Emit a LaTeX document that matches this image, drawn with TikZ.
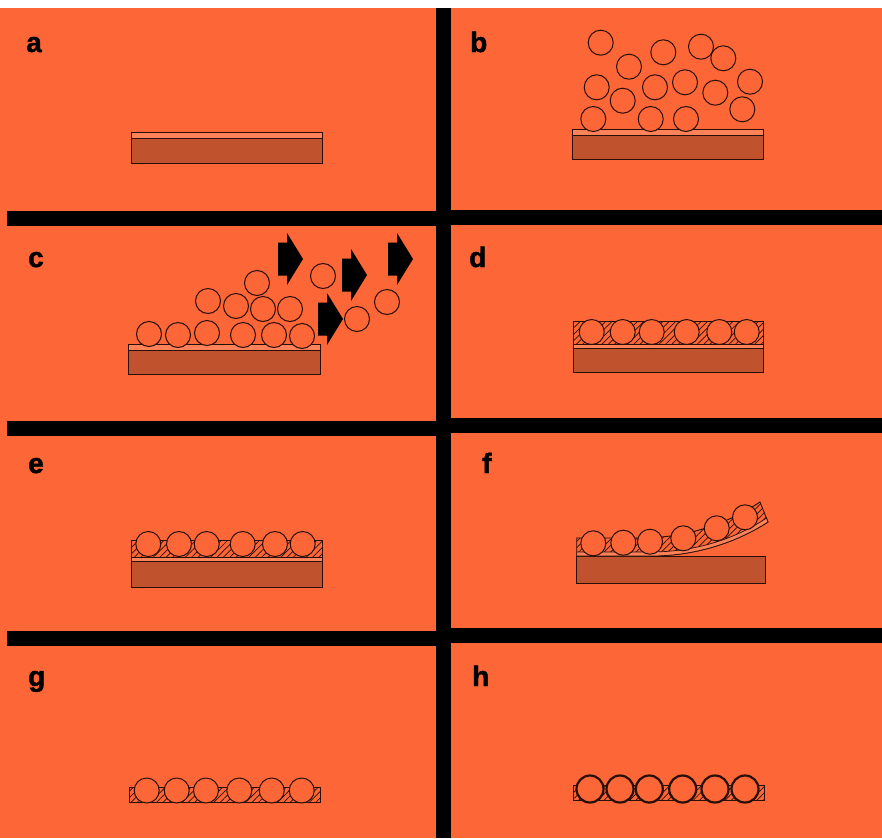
\documentclass[tikz,border=0pt]{standalone}
\usepackage{fontspec}
\newfontfamily\tagfont[FakeBold=1.6]{Liberation Sans Bold}
\usetikzlibrary{patterns.meta}
\definecolor{myorange}{RGB}{253,102,54}
\definecolor{mybrown}{RGB}{192,82,46}
\definecolor{mystrip}{RGB}{255,130,88}
\definecolor{myink}{RGB}{40,15,10}

\tikzset{
  substrate/.style={fill=mybrown, draw=myink, line width=0.9pt},
  strip/.style={fill=mystrip, draw=myink, line width=0.7pt},
  grain/.style={fill=myorange, draw=myink, line width=1pt},
  binder/.style={pattern={Lines[angle=45,distance=4.5pt,line width=0.7pt]},
    pattern color=myink, draw=myink, line width=0.9pt},
  tag/.style={font=\tagfont\fontsize{28}{28}\selectfont,
    anchor=base west, inner sep=0pt}
}

% block arrow, given by the left middle point of its shaft
\newcommand{\pusharrow}[2]{%
  \fill[black] (#1,#2) -- ++(0,-16.5) -- ++(9,0) -- ++(0,-9.5) -- ++(16,26)
    -- ++(-16,26) -- ++(0,-9.5) -- ++(-9,0) -- cycle;}

\begin{document}
\begin{tikzpicture}[x=1pt, y=-1pt]
\useasboundingbox (0,0) rectangle (882,838);
\fill[white] (0,0) rectangle (882,8);
\fill[myorange] (0,8) rectangle (882,838);
% grid bars
\fill[black] (436,8) rectangle (451,838);
\foreach \yl/\yr in {211/210, 421/418, 631/628} {
    \fill[black] (7,\yl) rectangle (436,\yl+15);
    \fill[black] (451,\yr) rectangle (882,\yr+15);
}

% a
\node[tag] (la) at (26,52) {a};
\draw[strip] (131,132) rectangle (322,138);
\draw[substrate] (131,138) rectangle (322,163);

% b
\node[tag] (lb) at (470,52) {b};
\draw[strip] (572,129) rectangle (763,135);
\draw[substrate] (572,135) rectangle (763,159);
\foreach \x/\y in {600.7/42.7, 629/66.7, 663.3/52.3, 701/46.7, 723.3/58.3,
    596.7/87.3, 622.7/100.7, 655/87.3, 685/82.3, 715.3/92.7, 750/81.7,
    593.3/119, 650.7/119, 686/119, 742.3/109.3} {
    \draw[grain] (\x,\y) circle (12.5);
}

% c
\node[tag] (lc) at (28,267) {c};
\draw[strip] (128,344) rectangle (320,350);
\draw[substrate] (128,350) rectangle (320,374);
\foreach \x/\y in {149/334, 178/335, 207/333, 243/335, 274/335, 302/336,
    208/301, 236/306, 263/309, 290/309, 257/283,
    323/276, 357/319, 387/302} {
    \draw[grain] (\x,\y) circle (12.5);
}
% blowing
\pusharrow{278}{259}
\pusharrow{342}{275}
\pusharrow{388}{259}
\pusharrow{318}{319}

% d
\node[tag] (ld) at (469,267) {d};
\draw[strip] (573,344) rectangle (763,348);
\draw[substrate] (573,348) rectangle (763,372);
\draw[binder] (573,321) rectangle (763,344);
\foreach \x in {591.7, 622.7, 651.7, 686.7, 719.3, 746.7} {
    \draw[grain] (\x,332) circle (12.5);
}

% e
\node[tag] (le) at (28,473) {e};
\draw[strip] (131.7,557) rectangle (322.7,561);
\draw[substrate] (131.7,561) rectangle (322.7,587);
\draw[binder] (131.7,540) rectangle (322.7,557);
\foreach \x in {148.3, 179, 206.7, 242.7, 275, 302.7} {
    \draw[grain] (\x,544) circle (12.5);
}

% f
\node[tag] (lf) at (482,473) {f};
\draw[substrate] (576.7,556) rectangle (765,583);
\draw[binder] (576.7,538) -- (640,538) .. controls (690,538) and (730,522) .. (760,502)
    -- (768,522) .. controls (740,540) and (700,556) .. (650,556) -- (576.7,556) -- cycle;
\draw[strip] (576.7,552) -- (650,552) .. controls (700,552) and (740,536) .. (766.4,518)
    -- (768,522) .. controls (740,540) and (700,556) .. (650,556) -- (576.7,556) -- cycle;
\foreach \x/\y in {593.3/543.3, 623.3/542.7, 650/541.7, 683.3/538.3,
    716.7/528.3, 745/517.3} {
    \draw[grain] (\x,\y) circle (12.5);
}

% g
\node[tag] (lg) at (28,686) {g};
\draw[binder] (129.3,787) rectangle (320,802);
\foreach \x in {146.7, 176.7, 206, 239.3, 271.7, 301.7} {
    \draw[grain] (\x,790.5) circle (12.5);
}

% h
\node[tag] (lh) at (472,686) {h};
\draw[binder] (573.3,785) rectangle (764,800);
\foreach \x in {590, 620, 649.3, 682.7, 715, 745} {
    \draw[grain, line width=2.2pt] (\x,789) circle (13.5);
}
\end{tikzpicture}
\end{document}
